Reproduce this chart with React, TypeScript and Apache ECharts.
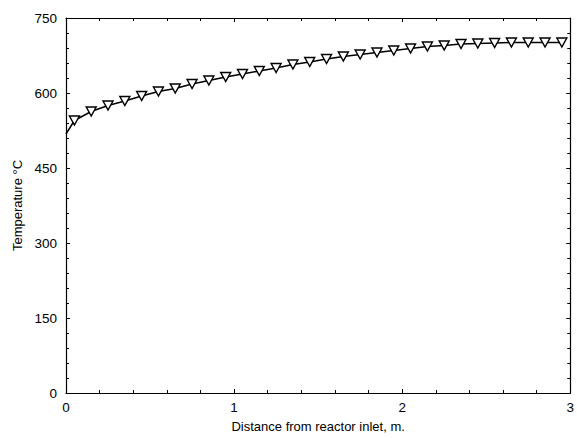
import React, { useEffect, useRef } from "react";
import * as echarts from "echarts";

const distance = [0, 0.05, 0.15, 0.25, 0.35, 0.45, 0.55, 0.65, 0.75, 0.85, 0.95, 1.05, 1.15, 1.25, 1.35, 1.45, 1.55, 1.65, 1.75, 1.85, 1.95, 2.05, 2.15, 2.25, 2.35, 2.45, 2.55, 2.65, 2.75, 2.85, 2.95];
const temperature = [518, 545, 563, 575, 584, 594, 603, 609, 618, 625, 632, 638, 644, 650, 657, 662, 668, 673, 677, 681, 685, 689, 693, 695, 698, 699, 700, 701, 701, 701, 701];

const FONT = "'Liberation Sans', Arial, sans-serif";

export default function App() {
  const ref = useRef<HTMLDivElement>(null);
  useEffect(() => {
    if (!ref.current) return;
    const chart = echarts.init(ref.current, null, { renderer: "svg" });
    const data = distance.map((x, i) => {
      const item: any = { value: [x, temperature[i]] };
      if (x === 0) item.symbol = "none";
      return item;
    });
    const tickCommon = {
      axisLine: { show: true, onZero: false, lineStyle: { color: "#000", width: 1.2 } },
      axisTick: { show: true, inside: true, length: 4, lineStyle: { color: "#000" } },
      minorTick: { show: true, splitNumber: 5, length: 3, lineStyle: { color: "#000" } },
      splitLine: { show: false },
    };
    chart.setOption({
      animation: false,
      backgroundColor: "#fff",
      grid: { left: 66, right: 4, top: 18, bottom: 41, containLabel: false },
      xAxis: [
        {
          type: "value",
          min: 0,
          max: 3,
          interval: 1,
          position: "bottom",
          name: "Distance from reactor inlet, m.",
          nameLocation: "middle",
          nameGap: 27,
          nameTextStyle: { fontFamily: FONT, fontSize: 13, color: "#000" },
          axisLabel: { fontFamily: FONT, fontSize: 13.5, color: "#000", margin: 7 },
          ...tickCommon,
        },
        {
          type: "value",
          min: 0,
          max: 3,
          interval: 1,
          position: "top",
          axisLabel: { show: false },
          ...tickCommon,
        },
      ],
      yAxis: [
        {
          type: "value",
          min: 0,
          max: 750,
          interval: 150,
          position: "left",
          name: "Temperature °C",
          nameLocation: "middle",
          nameGap: 42,
          nameTextStyle: { fontFamily: FONT, fontSize: 13, color: "#000" },
          axisLabel: { fontFamily: FONT, fontSize: 13.5, color: "#000", margin: 9 },
          ...tickCommon,
        },
        {
          type: "value",
          min: 0,
          max: 750,
          interval: 150,
          position: "right",
          axisLabel: { show: false },
          ...tickCommon,
        },
      ],
      series: [
        {
          type: "line",
          data,
          xAxisIndex: 0,
          yAxisIndex: 0,
          symbol: "triangle",
          symbolRotate: 180,
          symbolSize: [10, 9],
          showAllSymbol: true,
          smooth: false,
          lineStyle: { color: "#000", width: 1.5 },
          itemStyle: { color: "#fff", borderColor: "#000", borderWidth: 1.4 },
        },
      ],
    });
    return () => chart.dispose();
  }, []);
  return (
    <div
      ref={ref}
      style={{ position: "fixed", left: 0, top: 0, width: 577, height: 438 }}
    />
  );
}
